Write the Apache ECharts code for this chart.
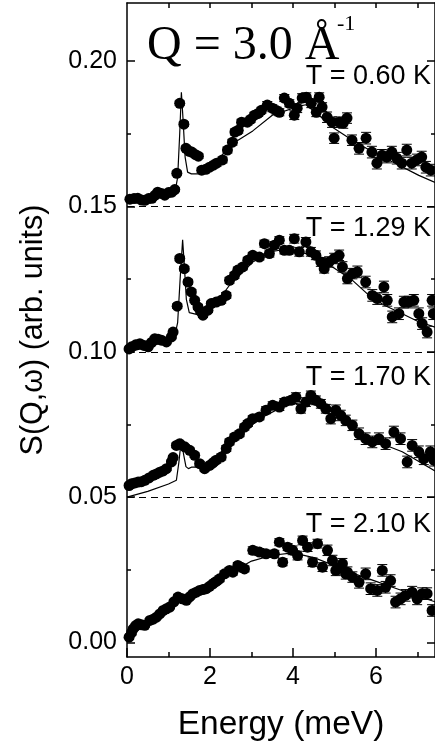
<!DOCTYPE html>
<html>
<head>
<meta charset="utf-8">
<script src="https://cdn.jsdelivr.net/npm/echarts@6/dist/echarts.min.js"></script>
<style>
  html, body { margin: 0; padding: 0; background: #fff; }
  #chart { width: 435px; height: 748px; }
</style>
</head>
<body>
<div id="chart"></div>
<script>
const temps = ['T = 0.60 K', 'T = 1.29 K', 'T = 1.70 K', 'T = 2.10 K']
const baselines = [0.15, 0.10, 0.05]
const yMajor = [0, 0.05, 0.10, 0.15, 0.20]
const yMinor = [0.025, 0.075, 0.125, 0.175]
const xMajor = [0, 2, 4, 6]
const xMinor = [1, 3, 5, 7]
const xTop = [1, 2, 3, 4, 5, 6, 7]

// [energy (meV), S(Q,w) incl. offset, error]
const data060 = [
  [0.07,0.1525,0.0006],[0.17,0.1527,0.0006],[0.26,0.1528,0.0006],[0.35,0.1522,0.0006],[0.43,0.1521,0.0006],
  [0.52,0.1527,0.0006],[0.60,0.1528,0.0006],[0.67,0.1538,0.0006],[0.74,0.1549,0.0006],[0.83,0.1545,0.0006],
  [0.91,0.1539,0.0006],[1.00,0.1548,0.0006],[1.08,0.1549,0.0006],[1.15,0.1558,0.0006],[1.20,0.1614,0.0008],
  [1.27,0.1855,0.0008],[1.37,0.1783,0.0008],[1.42,0.1700,0.0008],[1.50,0.1690,0.0008],[1.56,0.1687,0.0008],
  [1.65,0.1678,0.0008],[1.72,0.1673,0.0008],[1.80,0.1625,0.0008],[1.90,0.1628,0.0008],[1.99,0.1635,0.0008],
  [2.08,0.1642,0.0008],[2.16,0.1649,0.0010],[2.30,0.1660,0.0010],[2.42,0.1694,0.0010],[2.54,0.1721,0.0010],
  [2.60,0.1756,0.0010],[2.68,0.1762,0.0010],[2.76,0.1790,0.0010],[2.90,0.1790,0.0010],[2.98,0.1800,0.0010],
  [3.07,0.1814,0.0010],[3.16,0.1820,0.0010],[3.24,0.1831,0.0010],[3.38,0.1849,0.0012],[3.50,0.1838,0.0012],
  [3.60,0.1830,0.0012],[3.67,0.1824,0.0012],[3.79,0.1873,0.0012],[3.91,0.1855,0.0012],[4.03,0.1814,0.0015],
  [4.10,0.1838,0.0015],[4.22,0.1873,0.0015],[4.32,0.1876,0.0015],[4.44,0.1855,0.0015],[4.56,0.1824,0.0015],
  [4.63,0.1876,0.0015],[4.70,0.1842,0.0015],[4.82,0.1807,0.0018],[4.94,0.1790,0.0018],[4.99,0.1735,0.0018],
  [5.11,0.1790,0.0018],[5.21,0.1787,0.0018],[5.30,0.1804,0.0018],[5.42,0.1728,0.0018],[5.59,0.1700,0.0020],
  [5.76,0.1735,0.0020],[5.90,0.1687,0.0020],[6.02,0.1649,0.0020],[6.14,0.1676,0.0020],[6.26,0.1670,0.0020],
  [6.38,0.1687,0.0020],[6.50,0.1666,0.0020],[6.62,0.1649,0.0020],[6.74,0.1694,0.0020],[6.86,0.1649,0.0020],
  [6.98,0.1660,0.0020],[7.10,0.1670,0.0020],[7.20,0.1635,0.0020],[7.32,0.1625,0.0020]
]
const data129 = [
  [0.05,0.1010,0.0006],[0.11,0.1017,0.0006],[0.21,0.1024,0.0006],[0.31,0.1028,0.0006],[0.41,0.1022,0.0006],
  [0.51,0.1017,0.0006],[0.59,0.1032,0.0006],[0.67,0.1045,0.0006],[0.75,0.1043,0.0006],[0.83,0.1040,0.0006],
  [0.95,0.1034,0.0006],[1.07,0.1051,0.0006],[1.11,0.1068,0.0006],[1.21,0.1157,0.0008],[1.27,0.1321,0.0008],
  [1.38,0.1286,0.0008],[1.47,0.1240,0.0008],[1.55,0.1206,0.0008],[1.63,0.1177,0.0008],[1.71,0.1154,0.0008],
  [1.77,0.1140,0.0008],[1.83,0.1126,0.0008],[1.95,0.1143,0.0008],[2.03,0.1166,0.0008],[2.15,0.1171,0.0010],
  [2.27,0.1177,0.0010],[2.39,0.1194,0.0010],[2.47,0.1246,0.0010],[2.59,0.1263,0.0010],[2.67,0.1281,0.0010],
  [2.79,0.1292,0.0010],[2.91,0.1315,0.0010],[3.03,0.1332,0.0010],[3.19,0.1326,0.0010],[3.31,0.1372,0.0012],
  [3.43,0.1338,0.0012],[3.55,0.1367,0.0012],[3.67,0.1384,0.0012],[3.79,0.1349,0.0012],[3.91,0.1349,0.0012],
  [4.03,0.1389,0.0015],[4.15,0.1344,0.0015],[4.31,0.1378,0.0015],[4.43,0.1344,0.0015],[4.55,0.1332,0.0015],
  [4.67,0.1309,0.0015],[4.75,0.1286,0.0015],[4.87,0.1309,0.0018],[4.99,0.1321,0.0018],[5.11,0.1332,0.0018],
  [5.19,0.1292,0.0018],[5.31,0.1252,0.0018],[5.43,0.1269,0.0018],[5.55,0.1275,0.0020],[5.75,0.1240,0.0020],
  [5.91,0.1194,0.0020],[6.03,0.1183,0.0020],[6.19,0.1223,0.0020],[6.27,0.1177,0.0020],[6.39,0.1120,0.0020],
  [6.55,0.1131,0.0020],[6.67,0.1171,0.0020],[6.79,0.1171,0.0020],[6.91,0.1177,0.0020],[7.03,0.1131,0.0020],
  [7.11,0.1097,0.0020],[7.23,0.1068,0.0020],[7.35,0.1177,0.0020],[7.38,0.1131,0.0020]
]
const data170 = [
  [0.05,0.0540,0.0006],[0.11,0.0546,0.0006],[0.19,0.0549,0.0006],[0.27,0.0552,0.0006],[0.35,0.0553,0.0006],
  [0.43,0.0558,0.0006],[0.53,0.0566,0.0006],[0.63,0.0575,0.0006],[0.71,0.0580,0.0006],[0.79,0.0586,0.0006],
  [0.87,0.0590,0.0006],[0.95,0.0598,0.0006],[1.07,0.0621,0.0006],[1.11,0.0636,0.0006],[1.19,0.0678,0.0008],
  [1.27,0.0684,0.0008],[1.39,0.0673,0.0008],[1.51,0.0661,0.0008],[1.63,0.0644,0.0008],[1.75,0.0615,0.0008],
  [1.87,0.0598,0.0008],[1.99,0.0609,0.0008],[2.07,0.0618,0.0008],[2.15,0.0627,0.0010],[2.27,0.0638,0.0010],
  [2.39,0.0667,0.0010],[2.47,0.0690,0.0010],[2.59,0.0707,0.0010],[2.71,0.0718,0.0010],[2.83,0.0741,0.0010],
  [2.91,0.0753,0.0010],[3.03,0.0770,0.0010],[3.19,0.0776,0.0010],[3.35,0.0799,0.0012],[3.51,0.0816,0.0012],
  [3.67,0.0810,0.0012],[3.79,0.0827,0.0012],[3.95,0.0833,0.0012],[4.07,0.0844,0.0015],[4.19,0.0804,0.0015],
  [4.31,0.0827,0.0015],[4.43,0.0850,0.0015],[4.55,0.0833,0.0015],[4.67,0.0821,0.0015],[4.79,0.0804,0.0015],
  [4.91,0.0770,0.0018],[5.03,0.0799,0.0018],[5.15,0.0781,0.0018],[5.27,0.0764,0.0018],[5.43,0.0747,0.0018],
  [5.59,0.0718,0.0020],[5.75,0.0701,0.0020],[5.91,0.0690,0.0020],[6.07,0.0701,0.0020],[6.23,0.0684,0.0020],
  [6.43,0.0724,0.0020],[6.59,0.0701,0.0020],[6.75,0.0621,0.0020],[6.87,0.0678,0.0020],[7.03,0.0656,0.0020],
  [7.15,0.0632,0.0020],[7.31,0.0656,0.0020],[7.39,0.0627,0.0020]
]
const data210 = [
  [0.05,0.0018,0.0008],[0.11,0.0034,0.0008],[0.15,0.0047,0.0006],[0.21,0.0058,0.0006],[0.27,0.0064,0.0006],
  [0.35,0.0061,0.0006],[0.43,0.0059,0.0006],[0.55,0.0076,0.0006],[0.63,0.0080,0.0006],[0.71,0.0087,0.0006],
  [0.79,0.0098,0.0006],[0.87,0.0110,0.0006],[0.95,0.0116,0.0006],[1.03,0.0122,0.0006],[1.13,0.0140,0.0006],
  [1.23,0.0156,0.0008],[1.33,0.0150,0.0008],[1.43,0.0145,0.0008],[1.51,0.0157,0.0008],[1.59,0.0168,0.0008],
  [1.67,0.0173,0.0008],[1.75,0.0179,0.0008],[1.83,0.0182,0.0008],[1.91,0.0185,0.0008],[1.99,0.0193,0.0008],
  [2.07,0.0202,0.0008],[2.15,0.0210,0.0010],[2.23,0.0219,0.0010],[2.35,0.0236,0.0010],[2.47,0.0248,0.0010],
  [2.55,0.0242,0.0010],[2.67,0.0265,0.0010],[2.75,0.0259,0.0010],[2.83,0.0253,0.0010],[3.03,0.0317,0.0012],
  [3.19,0.0311,0.0012],[3.35,0.0305,0.0012],[3.55,0.0305,0.0012],[3.67,0.0345,0.0012],[3.75,0.0276,0.0012],
  [3.87,0.0328,0.0012],[3.99,0.0317,0.0015],[4.11,0.0299,0.0015],[4.23,0.0351,0.0015],[4.35,0.0328,0.0015],
  [4.47,0.0276,0.0015],[4.59,0.0340,0.0015],[4.71,0.0259,0.0015],[4.83,0.0317,0.0018],[4.95,0.0282,0.0018],
  [5.03,0.0248,0.0018],[5.07,0.0253,0.0018],[5.19,0.0271,0.0018],[5.27,0.0236,0.0018],[5.31,0.0242,0.0018],
  [5.43,0.0225,0.0018],[5.59,0.0207,0.0020],[5.75,0.0236,0.0020],[5.87,0.0185,0.0020],[6.03,0.0179,0.0020],
  [6.15,0.0248,0.0020],[6.23,0.0190,0.0020],[6.35,0.0213,0.0020],[6.47,0.0139,0.0020],[6.59,0.0150,0.0020],
  [6.71,0.0162,0.0020],[6.87,0.0173,0.0020],[6.99,0.0150,0.0020],[7.11,0.0168,0.0020],[7.23,0.0168,0.0020],
  [7.35,0.0110,0.0020]
]

// fitted curves
const fit060 = [
  [0,0.1520],[0.5,0.1525],[1.0,0.1535],[1.15,0.1545],[1.22,0.1600],[1.27,0.1750],[1.31,0.1893],[1.35,0.1800],
  [1.40,0.1670],[1.46,0.1618],[1.55,0.1612],[1.83,0.1612],[2.0,0.1632],[2.55,0.1717],[3.03,0.1760],[3.5,0.1814],
  [4.15,0.1845],[4.31,0.1850],[4.63,0.1814],[4.94,0.1773],[5.43,0.1728],[5.91,0.1688],[6.47,0.1648],[7.03,0.1607],
  [7.42,0.1583]
]
const fit129 = [
  [0,0.1000],[0.5,0.1015],[1.0,0.1040],[1.15,0.1055],[1.22,0.1100],[1.28,0.1250],[1.34,0.1385],[1.38,0.1300],
  [1.43,0.1180],[1.50,0.1135],[1.75,0.1126],[2.0,0.1140],[2.47,0.1229],[3.03,0.1309],[3.5,0.1345],[3.9,0.1355],
  [4.31,0.1338],[4.95,0.1292],[5.4,0.1250],[5.83,0.1194],[6.2,0.1160],[6.63,0.1131],[7.0,0.1105],[7.42,0.1085]
]
const fit170 = [
  [0,0.0500],[0.5,0.0520],[1.0,0.0545],[1.19,0.0558],[1.25,0.0620],[1.31,0.0701],[1.36,0.0650],[1.42,0.0605],
  [1.48,0.0598],[1.55,0.0603],[1.75,0.0603],[2.0,0.0625],[2.47,0.0678],[3.19,0.0770],[3.83,0.0816],[4.3,0.0828],
  [4.6,0.0815],[5.03,0.0787],[5.4,0.0745],[5.83,0.0701],[6.2,0.0680],[6.63,0.0656],[7.0,0.0625],[7.42,0.0590]
]
const fit210 = [
  [0,0.0015],[0.5,0.0065],[1.0,0.0118],[1.5,0.0158],[2.0,0.0198],[2.5,0.0240],[3.0,0.0280],[3.5,0.0300],
  [4.0,0.0308],[4.5,0.0292],[5.0,0.0265],[5.5,0.0235],[6.0,0.0210],[6.5,0.0185],[7.0,0.0160],[7.42,0.0140]
]

const sans = 'Liberation Sans, Arial, Helvetica, sans-serif'
const serif = 'Liberation Serif, Times New Roman, serif'
const X_MIN = 0, X_MAX = 7.42, Y_MIN = -0.005, Y_MAX = 0.22

function dots(points) {
  return {
    type: 'scatter', data: points, symbol: 'circle', symbolSize: 11,
    itemStyle: { color: '#000', opacity: 1 }, z: 4, silent: true, clip: true
  }
}
function fitLine(points) {
  return {
    type: 'line', data: points, symbol: 'none', z: 2, silent: true, clip: true,
    lineStyle: { color: '#000', width: 1.2 }
  }
}
function errorBars(points) {
  return {
    type: 'custom', data: points, z: 3, silent: true, clip: true,
    renderItem: function(params, api) {
      const x = api.value(0), y = api.value(1), e = api.value(2)
      const top = api.coord([x, y + e])
      const bot = api.coord([x, y - e])
      const w = 5
      const style = { stroke: '#000', lineWidth: 1 }
      return {
        type: 'group',
        children: [
          { type: 'line', shape: { x1: top[0], y1: top[1], x2: bot[0], y2: bot[1] }, style: style },
          { type: 'line', shape: { x1: top[0] - w, y1: top[1], x2: top[0] + w, y2: top[1] }, style: style },
          { type: 'line', shape: { x1: bot[0] - w, y1: bot[1], x2: bot[0] + w, y2: bot[1] }, style: style }
        ]
      }
    }
  }
}

const chart = echarts.init(document.getElementById('chart'))

const lineCol = { show: true, onZero: false, lineStyle: { color: '#000', width: 1.5 } }
const noLine = { show: false, onZero: false }

const option = {
  animation: false,
  backgroundColor: '#fff',
  grid: { left: 127, top: 3, width: 309, height: 654 },
  xAxis: [
    {
      type: 'value', min: X_MIN, max: X_MAX, position: 'bottom',
      axisLine: lineCol, splitLine: { show: false },
      axisTick: { inside: true, length: 9, lineStyle: { color: '#000', width: 1.5 }, customValues: xMajor },
      axisLabel: { customValues: xMajor, color: '#000', fontFamily: sans, fontSize: 25, margin: 8 },
      name: 'Energy (meV)', nameLocation: 'middle', nameGap: 51,
      nameTextStyle: { color: '#000', fontFamily: sans, fontSize: 33.5 }
    },
    {
      type: 'value', min: X_MIN, max: X_MAX, position: 'bottom',
      axisLine: noLine, splitLine: { show: false }, axisLabel: { show: false },
      axisTick: { inside: true, length: 5, lineStyle: { color: '#000', width: 1.5 }, customValues: xMinor }
    },
    {
      type: 'value', min: X_MIN, max: X_MAX, position: 'top',
      axisLine: lineCol, splitLine: { show: false }, axisLabel: { show: false },
      axisTick: { inside: true, length: 5, lineStyle: { color: '#000', width: 1.5 }, customValues: xTop }
    }
  ],
  yAxis: [
    {
      type: 'value', min: Y_MIN, max: Y_MAX, position: 'left',
      axisLine: lineCol, splitLine: { show: false },
      axisTick: { inside: true, length: 8, lineStyle: { color: '#000', width: 1.5 }, customValues: yMajor },
      axisLabel: {
        customValues: yMajor, color: '#000', fontFamily: sans, fontSize: 25, margin: 10,
        formatter: v => v.toFixed(2)
      },
      name: 'S(Q,\u03c9) (arb. units)', nameLocation: 'middle', nameGap: 78,
      nameTextStyle: { color: '#000', fontFamily: sans, fontSize: 30.5 }
    },
    {
      type: 'value', min: Y_MIN, max: Y_MAX, position: 'left',
      axisLine: noLine, splitLine: { show: false }, axisLabel: { show: false },
      axisTick: { inside: true, length: 4, lineStyle: { color: '#000', width: 1.5 }, customValues: yMinor }
    },
    {
      type: 'value', min: Y_MIN, max: Y_MAX, position: 'right',
      axisLine: lineCol, splitLine: { show: false }, axisLabel: { show: false },
      axisTick: { inside: true, length: 8, lineStyle: { color: '#000', width: 1.5 }, customValues: yMajor }
    },
    {
      type: 'value', min: Y_MIN, max: Y_MAX, position: 'right',
      axisLine: noLine, splitLine: { show: false }, axisLabel: { show: false },
      axisTick: { inside: true, length: 4, lineStyle: { color: '#000', width: 1.5 }, customValues: yMinor }
    }
  ],
  graphic: [
    {
      type: 'text', x: 147, y: 46, silent: true,
      style: { text: 'Q = 3.0 \u00c5', font: '48px ' + serif, fill: '#000',
        textVerticalAlign: 'middle', verticalAlign: 'middle' }
    },
    {
      type: 'text', x: 337, y: 24, silent: true,
      style: { text: '-1', font: '22px ' + serif, fill: '#000',
        textVerticalAlign: 'middle', verticalAlign: 'middle' }
    }
  ].concat(temps.map((t, i) => ({
    type: 'text', x: 431, y: [77, 229, 378, 525][i], silent: true,
    style: { text: t, font: '27px ' + sans, fill: '#000',
      textAlign: 'right', align: 'right', textVerticalAlign: 'middle', verticalAlign: 'middle' }
  }))),
  series: [
    {
      type: 'line', data: [], symbol: 'none', silent: true,
      markLine: {
        silent: true, symbol: 'none', label: { show: false },
        lineStyle: { color: '#000', width: 1, type: [7, 5] },
        data: baselines.map(b => ({ yAxis: b }))
      }
    },
    fitLine(fit060), fitLine(fit129), fitLine(fit170), fitLine(fit210),
    errorBars(data060), errorBars(data129), errorBars(data170), errorBars(data210),
    dots(data060), dots(data129), dots(data170), dots(data210)
  ]
}

chart.setOption(option)
</script>
</body>
</html>
